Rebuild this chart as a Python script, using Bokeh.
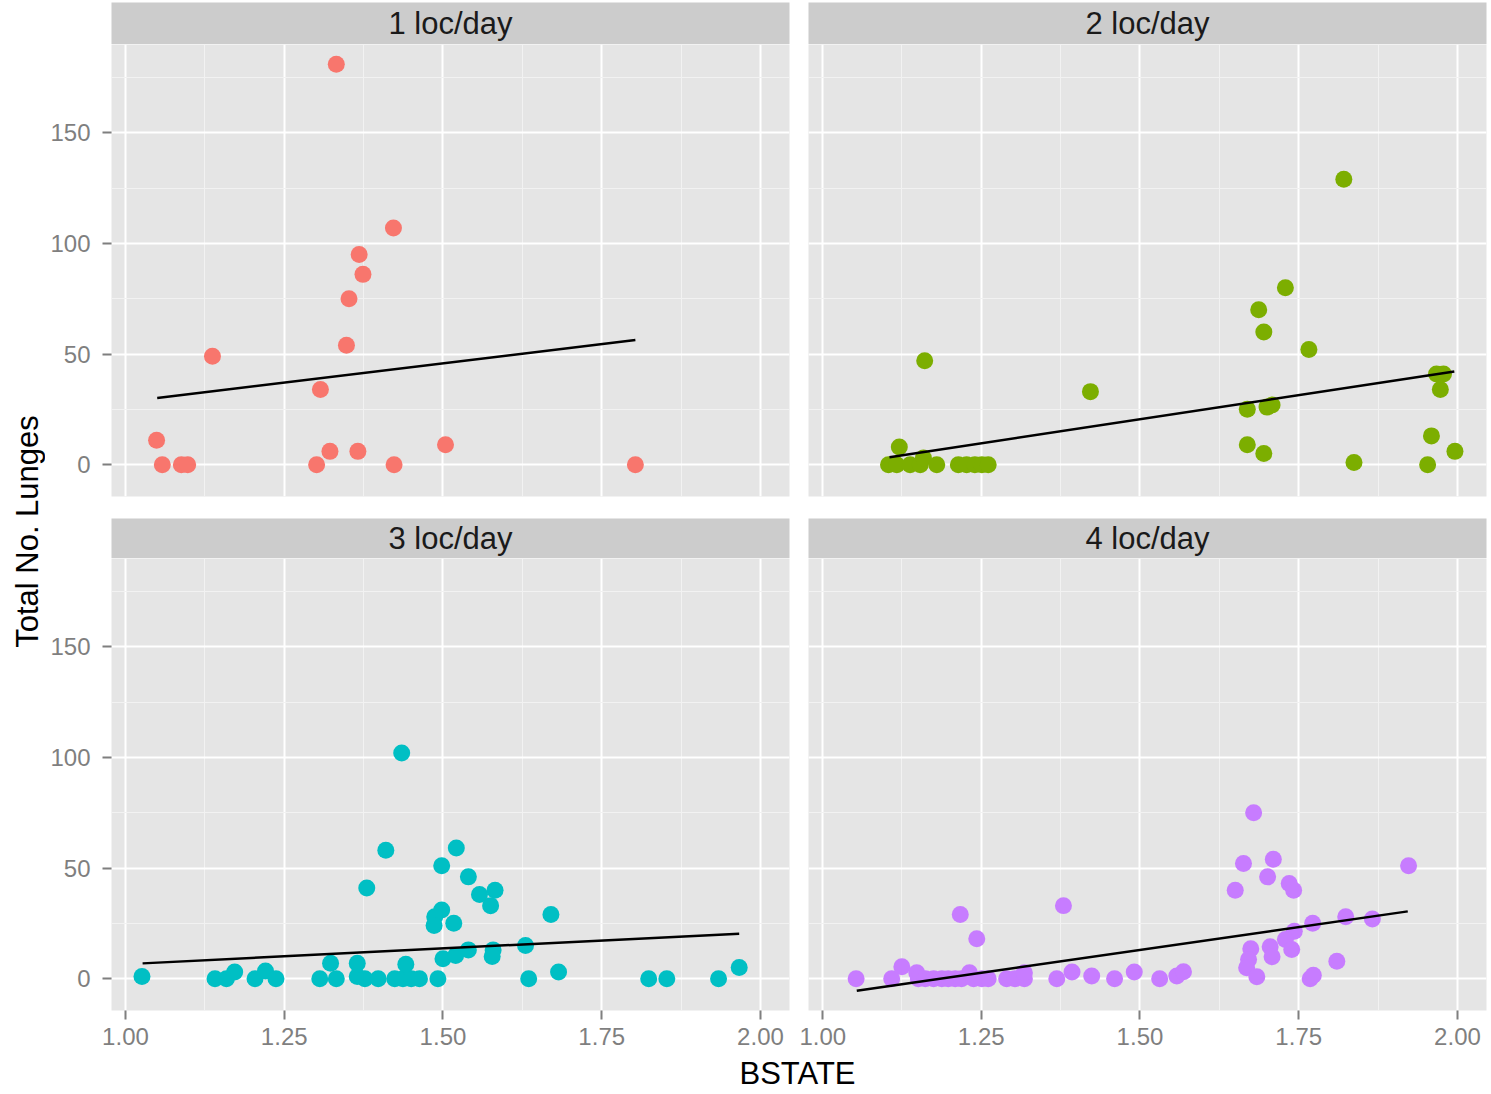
import math
from bokeh.plotting import figure
from bokeh.layouts import row, column
from bokeh.models import Range1d, FixedTicker, PrintfTickFormatter
from bokeh.core.properties import value
from bokeh.embed import file_html
from bokeh.resources import INLINE

# ---------------- data ----------------
panel_titles = ["1 loc/day", "2 loc/day", "3 loc/day", "4 loc/day"]
colors = ["#F8766D", "#7CAE00", "#00BFC4", "#C77CFF"]

x_ticks = [1.0, 1.25, 1.5, 1.75, 2.0]
x_minor = [1.125, 1.375, 1.625, 1.875]
y_ticks = [0, 50, 100, 150]
y_minor = [25, 75, 125, 175]

x_label = "BSTATE"
y_label = "Total No. Lunges"

# 1 loc/day
bstate_1 = [1.332, 1.422, 1.368, 1.374, 1.352, 1.348, 1.137, 1.307, 1.049, 1.058,
            1.088, 1.098, 1.301, 1.322, 1.366, 1.423, 1.504, 1.803]
lunges_1 = [181, 107, 95, 86, 75, 54, 49, 34, 11, 0,
            0, 0, 0, 6, 6, 0, 9, 0]
fit_x_1 = [1.050, 1.803]
fit_y_1 = [30.1, 56.3]

# 2 loc/day
bstate_2 = [1.161, 1.422, 1.121, 1.104, 1.117, 1.138, 1.154, 1.159, 1.180, 1.214,
            1.227, 1.240, 1.251, 1.261, 1.821, 1.729, 1.687, 1.695, 1.766, 1.967,
            1.978, 1.973, 1.669, 1.700, 1.708, 1.669, 1.695, 1.837, 1.959, 1.953, 1.996]
lunges_2 = [47, 33, 8, 0, 0, 0, 0, 3, 0, 0,
            0, 0, 0, 0, 129, 80, 70, 60, 52, 41,
            41, 34, 25, 26, 27, 9, 5, 1, 13, 0, 6]
fit_x_2 = [1.1055, 1.995]
fit_y_2 = [3.3, 42.1]

# 3 loc/day
bstate_3 = [1.435, 1.410, 1.380, 1.498, 1.521, 1.498, 1.487, 1.486, 1.517, 1.500,
            1.026, 1.141, 1.159, 1.172, 1.204, 1.2205, 1.237, 1.306, 1.323, 1.332,
            1.365, 1.365, 1.377, 1.398, 1.424, 1.437, 1.450, 1.463, 1.4415, 1.492,
            1.540, 1.5575, 1.582, 1.575, 1.670, 1.540, 1.520, 1.579, 1.5775, 1.630,
            1.635, 1.682, 1.824, 1.8525, 1.934, 1.9665]
lunges_3 = [102, 58, 41, 51, 59, 31, 28, 24, 25, 9,
            1, 0, 0, 3, 0, 3.5, 0, 0, 7, 0,
            7, 1, 0, 0, 0, 0, 0, 0, 6.5, 0,
            46, 38, 40, 33, 29, 13, 10.5, 13, 10, 15,
            0, 3, 0, 0, 0, 5]
fit_x_3 = [1.027, 1.9665]
fit_y_3 = [6.9, 20.3]

# 4 loc/day
bstate_4 = [1.053, 1.109, 1.125, 1.1485, 1.151, 1.162, 1.175, 1.188, 1.198, 1.209,
            1.219, 1.238, 1.251, 1.261, 1.2315, 1.217, 1.243, 1.290, 1.303, 1.318,
            1.318, 1.3795, 1.369, 1.393, 1.424, 1.460, 1.491,
            1.531, 1.558, 1.5685, 1.679, 1.663, 1.710, 1.701, 1.650, 1.735, 1.742,
            1.923, 1.772, 1.824, 1.866, 1.743, 1.729, 1.6745, 1.705, 1.739, 1.708,
            1.671, 1.668, 1.684, 1.810, 1.768, 1.773]
lunges_4 = [0, 0, 5.4, 2.7, 0, 0, 0, 0, 0, 0,
            0, 0, 0, 0, 2.7, 29, 18, 0, 0, 0,
            2.7, 33, 0, 3, 1.2, 0, 3,
            0, 1.2, 3.1, 75, 52, 54, 46, 40, 43, 40,
            51, 25, 28, 27, 21.4, 17.7, 13.5, 14.4, 13.2, 9.9,
            8.7, 4.9, 0.9, 7.9, 0, 1.5]
fit_x_4 = [1.054, 1.9217]
fit_y_4 = [-5.5, 30.4]

panels = [
    (bstate_1, lunges_1, fit_x_1, fit_y_1),
    (bstate_2, lunges_2, fit_x_2, fit_y_2),
    (bstate_3, lunges_3, fit_x_3, fit_y_3),
    (bstate_4, lunges_4, fit_x_4, fit_y_4),
]

# ---------------- styling / layout ----------------
FONT = "Liberation Sans"
FRAME_W = 678
FRAME_H = 452
X_RANGE = (0.978, 2.0457)
Y_RANGE = (-14.4, 189.9)

YLAB_W = 45
LEFT_BL, LEFT_BR = 66, 10
RIGHT_BL, RIGHT_BR = 9, 3
TOP_STRIP_PAD = 2
STRIP_H1, STRIP_H2 = 42, 40
GAP = 22
BOTTOM_AXIS = 44
XLAB_H = 38


def borders(left):
    if left:
        return dict(min_border_left=LEFT_BL, min_border_right=LEFT_BR)
    return dict(min_border_left=RIGHT_BL, min_border_right=RIGHT_BR)


def make_panel(idx, left, bottom):
    xs, ys, fx, fy = panels[idx]
    p = figure(frame_width=FRAME_W, frame_height=FRAME_H,
               x_range=Range1d(*X_RANGE), y_range=Range1d(*Y_RANGE),
               output_backend="svg", toolbar_location=None,
               background_fill_color="#E5E5E5", border_fill_color="white",
               outline_line_color=None,
               min_border_top=0, min_border_bottom=BOTTOM_AXIS if bottom else GAP,
               **borders(left))
    xt = FixedTicker(ticks=x_ticks, minor_ticks=x_minor)
    yt = FixedTicker(ticks=y_ticks, minor_ticks=y_minor)
    p.xaxis.ticker = xt
    p.yaxis.ticker = yt
    p.xgrid.ticker = xt
    p.ygrid.ticker = yt
    p.xaxis.formatter = PrintfTickFormatter(format="%.2f")
    p.grid.grid_line_color = "white"
    p.grid.grid_line_width = 2
    p.grid.minor_grid_line_color = "#F2F2F2"
    p.grid.minor_grid_line_width = 1
    for ax in list(p.xaxis) + list(p.yaxis):
        ax.axis_line_color = None
        ax.major_tick_line_color = "#7F7F7F"
        ax.major_tick_line_width = 2
        ax.major_tick_out = 9
        ax.major_tick_in = 0
        ax.minor_tick_line_color = None
        ax.major_label_text_color = "#7F7F7F"
        ax.major_label_text_font = FONT
        ax.major_label_text_font_size = "24px"
        ax.major_label_standoff = 8
    for ax in p.yaxis:
        ax.major_label_standoff = 12
    p.xaxis.visible = bottom
    p.yaxis.visible = left
    p.scatter(xs, ys, size=17, fill_color=colors[idx], line_color=None)
    p.line(fx, fy, line_color="black", line_width=2.5)
    return p


def make_strip(idx, left, h, top_pad):
    s = figure(frame_width=FRAME_W, frame_height=h,
               x_range=Range1d(0, 1), y_range=Range1d(0, 1),
               x_axis_location=None, y_axis_location=None,
               output_backend="svg", toolbar_location=None,
               background_fill_color="#CCCCCC", border_fill_color="white",
               outline_line_color=None, min_border_top=top_pad,
               min_border_bottom=0, **borders(left))
    s.grid.visible = False
    s.text(x=[0.5], y=[0.5], text=[panel_titles[idx]], text_align="center",
           text_baseline="middle", text_font=value(FONT),
           text_font_size="31px", text_color="#1A1A1A")
    return s


s1 = make_strip(0, True, STRIP_H1, TOP_STRIP_PAD)
s2 = make_strip(1, False, STRIP_H1, TOP_STRIP_PAD)
s3 = make_strip(2, True, STRIP_H2, 0)
s4 = make_strip(3, False, STRIP_H2, 0)
p1 = make_panel(0, True, False)
p2 = make_panel(1, False, False)
p3 = make_panel(2, True, True)
p4 = make_panel(3, False, True)

YLAB_H = (TOP_STRIP_PAD + STRIP_H1 + FRAME_H + GAP +
          STRIP_H2 + FRAME_H + BOTTOM_AXIS)
ylab = figure(width=YLAB_W, height=YLAB_H, x_range=Range1d(0, YLAB_W),
              y_range=Range1d(0, YLAB_H), x_axis_location=None,
              y_axis_location=None, output_backend="svg",
              toolbar_location=None, outline_line_color=None,
              min_border_left=0, min_border_right=0, min_border_top=0,
              min_border_bottom=0)
ylab.grid.visible = False
ylab.text(x=[27], y=[YLAB_H - 531], text=[y_label], angle=math.pi / 2,
          text_align="center", text_baseline="middle", text_font=value(FONT),
          text_font_size="31px", text_color="black")

TOTAL_W = (YLAB_W + LEFT_BL + FRAME_W + LEFT_BR +
           RIGHT_BL + FRAME_W + RIGHT_BR)
xlab = figure(width=TOTAL_W, height=XLAB_H, x_range=Range1d(0, TOTAL_W),
              y_range=Range1d(0, XLAB_H), x_axis_location=None,
              y_axis_location=None, output_backend="svg",
              toolbar_location=None, outline_line_color=None,
              min_border_left=0, min_border_right=0, min_border_top=0,
              min_border_bottom=0)
xlab.grid.visible = False
xlab.text(x=[797], y=[XLAB_H / 2], text=[x_label],
          text_align="center", text_baseline="middle",
          text_font=value(FONT), text_font_size="31px", text_color="black")

layout = column(
    row(ylab, column(s1, p1, s3, p3), column(s2, p2, s4, p4)),
    xlab,
)

open("out.html", "w").write(file_html(layout, INLINE))
